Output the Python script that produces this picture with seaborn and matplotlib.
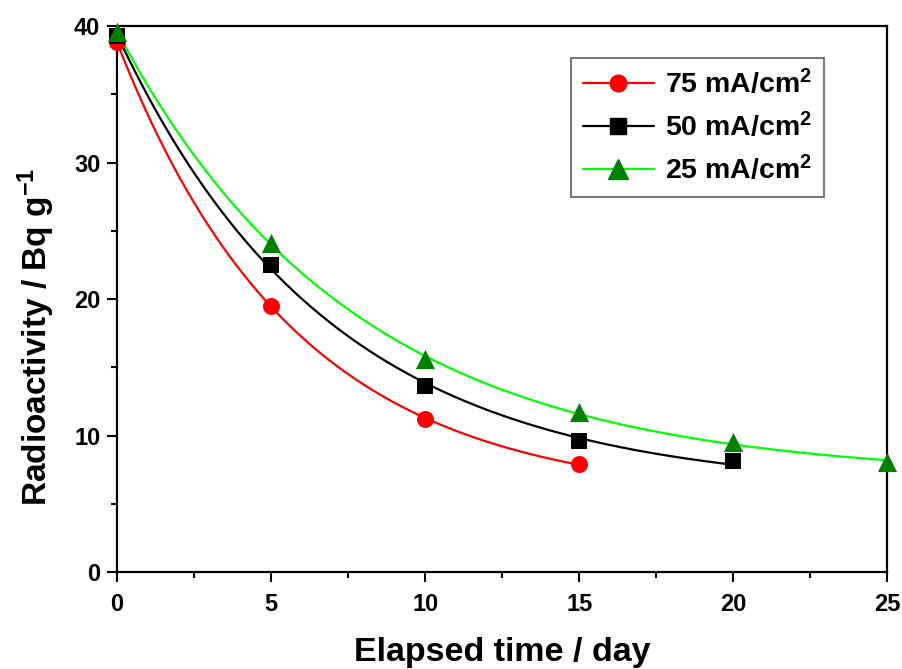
import matplotlib
matplotlib.use("Agg")
import matplotlib.pyplot as plt
from matplotlib.lines import Line2D
from matplotlib.ticker import MultipleLocator
import seaborn as sns
import pandas as pd
import numpy as np

# data
days_75 = [0, 5, 10, 15]
act_75 = [38.8, 19.5, 11.2, 7.9]

days_50 = [0, 5, 10, 15, 20]
act_50 = [39.3, 22.5, 13.6, 9.6, 8.1]

days_25 = [0, 5, 10, 15, 20, 25]
act_25 = [39.6, 24.1, 15.6, 11.7, 9.5, 8.05]

labels = ['75 mA/cm$^\\mathbf{2}$', '50 mA/cm$^\\mathbf{2}$', '25 mA/cm$^\\mathbf{2}$']
line_colors = ['#ff0000', '#000000', '#00ff00']
marker_colors = ['#ff0000', '#000000', '#008000']
markers = ['o', 's', '^']


def exp_fit(x, y):
    # y = y0 + A*exp(-x/t), grid search over t, linear least squares for y0, A
    x = np.asarray(x, float)
    y = np.asarray(y, float)
    best = None
    for t in np.linspace(1, 40, 800):
        M = np.column_stack([np.ones_like(x), np.exp(-x / t)])
        coef, *_ = np.linalg.lstsq(M, y, rcond=None)
        err = np.sum((M @ coef - y) ** 2)
        if best is None or err < best[0]:
            best = (err, t, coef)
    _, t, (y0, a) = best
    xs = np.linspace(x.min(), x.max(), 200)
    return xs, y0 + a * np.exp(-xs / t)


sns.set_style("ticks")
plt.rcParams['font.family'] = ['Liberation Sans', 'DejaVu Sans']
plt.rcParams['font.weight'] = 'bold'
plt.rcParams['text.color'] = 'black'
plt.rcParams['axes.labelcolor'] = 'black'
plt.rcParams['xtick.color'] = 'black'
plt.rcParams['ytick.color'] = 'black'
plt.rcParams['axes.edgecolor'] = 'black'
plt.rcParams['mathtext.fontset'] = 'custom'
plt.rcParams['mathtext.rm'] = 'Liberation Sans:bold'
plt.rcParams['mathtext.bf'] = 'Liberation Sans:bold'
plt.rcParams['mathtext.default'] = 'bf'

fig = plt.figure(figsize=(9.03, 6.69), dpi=100)
ax = fig.add_axes([0.1296, 0.145, 0.853, 0.816])

series = [(days_75, act_75), (days_50, act_50), (days_25, act_25)]
for (d, a), lc in zip(series, line_colors):
    xs, ys = exp_fit(d, a)
    sns.lineplot(x=xs, y=ys, color=lc, lw=1.6, ax=ax, zorder=2)

msizes = [150, 130, 190]
for (d, a), mc, mk, ms in zip(series, marker_colors, markers, msizes):
    sns.scatterplot(x=d, y=a, color=mc, marker=mk, s=ms, linewidth=0,
                    ax=ax, zorder=3, clip_on=False)

ax.set_xlim(0, 25)
ax.set_ylim(0, 40)
ax.xaxis.set_major_locator(MultipleLocator(5))
ax.xaxis.set_minor_locator(MultipleLocator(2.5))
ax.yaxis.set_major_locator(MultipleLocator(10))
ax.yaxis.set_minor_locator(MultipleLocator(5))
ax.tick_params(which='major', length=7, width=1.5, labelsize=17, direction='out')
ax.tick_params(axis='x', which='major', pad=8)
ax.tick_params(axis='y', which='major', pad=5)
ax.tick_params(which='minor', length=4, width=1.5, direction='out')
for s in ax.spines.values():
    s.set_linewidth(1.6)
    s.set_visible(True)

ax.set_xlabel('Elapsed time / day', fontsize=24.5, fontweight='bold', labelpad=15)
ax.set_ylabel('Radioactivity / Bq g$^{\\mathbf{-1}}$', fontsize=24, fontweight='bold')
ax.yaxis.set_label_coords(-0.078, 0.43)

handles = [Line2D([0], [0], color=lc, lw=1.6, marker=mk, markerfacecolor=mc,
                  markeredgecolor=mc, markersize=ms)
           for lc, mc, mk, ms in zip(line_colors, marker_colors, markers, [12, 11, 14])]
leg = ax.legend(handles, labels, loc='upper right', bbox_to_anchor=(0.936, 0.968),
                fontsize=20.5, frameon=True, fancybox=False, handlelength=2.5,
                borderpad=0.4, labelspacing=0.45, handletextpad=0.4)
leg.get_frame().set_edgecolor('#333333')
leg.get_frame().set_linewidth(1.2)

fig.savefig('out.png', dpi=100)
